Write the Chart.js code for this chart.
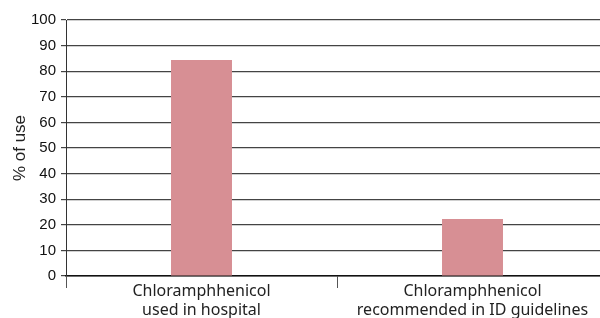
<!DOCTYPE html>
<html>
<head>
<meta charset="utf-8">
<script src="https://cdn.jsdelivr.net/npm/chart.js@4"></script>
<style>
  html, body { margin: 0; padding: 0; background: #fff; overflow: hidden; }
  #wrap { width: 608px; height: 318px; position: relative; }
</style>
</head>
<body>
<div id="wrap"><canvas id="myChart"></canvas></div>
<script>
let categorias = [['Chloramphhenicol', 'used in hospital'], ['Chloramphhenicol', 'recommended in ID guidelines']];
let valores = [84.4, 22.3];
let tituloY = '% of use';

let ctx = document.getElementById('myChart').getContext('2d');
let grafico = new Chart(ctx, {
    type: 'bar',
    data: {
        labels: categorias,
        datasets: [{
            label: tituloY,
            data: valores,
            backgroundColor: '#d78f94',
            borderWidth: 0,
            categoryPercentage: 1,
            barPercentage: 0.225
        }]
    },
    options: {
        responsive: true,
        maintainAspectRatio: false,
        animation: false,
        layout: { padding: { top: 20, right: 0, left: 0, bottom: 0 } },
        plugins: {
            legend: { display: false },
            tooltip: { enabled: false }
        },
        scales: {
            x: {
                grid: {
                    offset: true,
                    drawOnChartArea: false,
                    tickLength: 12,
                    color: '#555',
                    lineWidth: 1
                },
                border: { display: true, color: '#111', width: 1.5 },
                ticks: {
                    color: '#222',
                    font: { family: 'Noto Sans', size: 16, lineHeight: 1.2 },
                    padding: -6,
                    maxRotation: 0
                },
                afterFit: function(scale) { scale.height = 42; }
            },
            y: {
                min: 0,
                max: 100,
                ticks: {
                    stepSize: 10,
                    color: '#111',
                    padding: 5,
                    font: { family: 'Liberation Sans', size: 15 }
                },
                grid: {
                    color: '#444',
                    lineWidth: 1.2,
                    tickLength: 5
                },
                border: { display: true, color: '#333', width: 1 },
                title: {
                    display: true,
                    text: tituloY,
                    color: '#222',
                    font: { family: 'Liberation Sans', size: 17 },
                    padding: { top: 10, bottom: 0 }
                },
                afterFit: function(scale) { scale.width = 66; }
            }
        }
    }
});
</script>
</body>
</html>
